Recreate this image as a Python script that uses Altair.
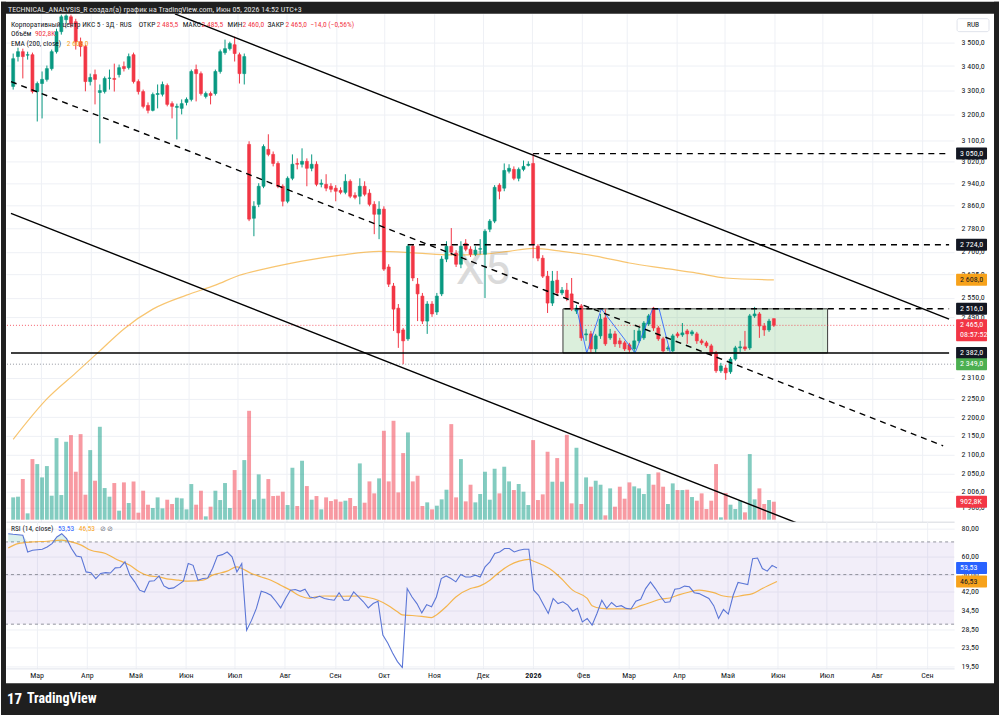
import altair as alt
import pandas as pd

FONT = "Roboto Condensed, Roboto, sans-serif"
INK = "#131722"
GREEN = "#089981"
RED = "#f23645"
ORANGE = "#f7a21b"
GRID = "#eef0f5"

# ---------------- data ----------------
bar_start = "2025-02-11 12:00"   # first 3-day bar
bar_days = 3

opens = [3315, 3440, 3461, 3446, 3448, 3294, 3327, 3344, 3389, 3461,
         3548, 3601, 3614, 3592, 3504, 3483, 3335, 3364, 3290, 3294,
         3348, 3348, 3364, 3398, 3393, 3448, 3335, 3294, 3238, 3218,
         3282, 3283, 3319, 3245, 3230, 3226, 3250, 3262, 3385, 3368,
         3274, 3286, 3286, 3377, 3457, 3474, 3491, 3448, 3368, 3085,
         2815, 2864, 2929, 3066, 3047, 3013, 2929, 2875, 2958, 3013,
         3010, 3021, 2995, 3010, 2936, 2936, 2929, 2922, 2914, 2907,
         2947, 2896, 2893, 2929, 2904, 2864, 2829, 2847, 2650, 2588,
         2518, 2451, 2424, 2719, 2594, 2556, 2478, 2531, 2506, 2563,
         2676, 2719, 2696, 2659, 2729, 2709, 2692, 2709, 2692, 2777,
         2805, 2933, 2922, 2984, 2991, 2958, 2991, 3006, 3013, 2719,
         2679, 2620, 2534, 2607, 2566, 2575, 2563, 2509, 2525, 2436,
         2439, 2394, 2433, 2488, 2427, 2439, 2418, 2412, 2406, 2394,
         2418, 2427, 2469, 2518, 2457, 2424, 2394, 2388, 2439, 2436,
         2448, 2439, 2439, 2418, 2412, 2403, 2382, 2330, 2338, 2327,
         2364, 2397, 2400, 2397, 2494, 2500, 2463, 2451, 2485.5]
highs = [3453, 3478, 3474, 3461, 3457, 3335, 3377, 3402, 3470, 3561,
         3623, 3625, 3623, 3605, 3522, 3491, 3368, 3385, 3323, 3356,
         3385, 3410, 3406, 3419, 3453, 3457, 3344, 3302, 3250, 3290,
         3323, 3335, 3327, 3254, 3245, 3262, 3270, 3385, 3406, 3377,
         3294, 3294, 3385, 3470, 3513, 3504, 3526, 3457, 3453, 3097,
         2875, 2940, 3085, 3124, 3058, 3021, 2936, 2965, 3047, 3032,
         3070, 3032, 3047, 3021, 2954, 2973, 2940, 2933, 2925, 2973,
         2954, 2907, 2958, 2947, 2918, 2875, 2875, 2857, 2659, 2598,
         2531, 2457, 2726, 2726, 2614, 2566, 2540, 2540, 2566, 2686,
         2736, 2781, 2706, 2736, 2743, 2719, 2719, 2743, 2777, 2812,
         2933, 2940, 3013, 3010, 3002, 2998, 3024, 3021, 3050, 2726,
         2689, 2637, 2637, 2637, 2585, 2598, 2614, 2528, 2531, 2454,
         2448, 2439, 2500, 2515, 2454, 2448, 2427, 2418, 2412, 2451,
         2457, 2478, 2500, 2522, 2463, 2430, 2403, 2439, 2445, 2472,
         2454, 2451, 2445, 2424, 2418, 2409, 2388, 2353, 2347, 2370,
         2403, 2418, 2448, 2500, 2522, 2506, 2472, 2485, 2485.5]
lows = [3302, 3419, 3348, 3427, 3286, 3174, 3186, 3335, 3381, 3453,
        3535, 3583, 3566, 3470, 3440, 3295, 3319, 3242, 3089, 3286,
        3302, 3294, 3352, 3377, 3385, 3327, 3282, 3226, 3206, 3214,
        3226, 3274, 3234, 3186, 3104, 3202, 3238, 3254, 3254, 3278,
        3266, 3242, 3278, 3368, 3448, 3466, 3419, 3327, 3323, 2805,
        2753, 2854, 2922, 3040, 3002, 2922, 2857, 2868, 2951, 2991,
        2998, 2929, 2984, 2929, 2925, 2911, 2907, 2875, 2900, 2900,
        2886, 2882, 2864, 2893, 2857, 2760, 2743, 2637, 2585, 2448,
        2397, 2349, 2418, 2604, 2478, 2469, 2439, 2491, 2497, 2556,
        2666, 2689, 2650, 2646, 2702, 2683, 2686, 2692, 2550, 2767,
        2798, 2882, 2911, 2976, 2951, 2947, 2984, 3002, 2679, 2669,
        2614, 2503, 2525, 2556, 2559, 2540, 2509, 2500, 2418, 2418,
        2382, 2382, 2424, 2403, 2421, 2400, 2397, 2388, 2382, 2385,
        2412, 2421, 2463, 2448, 2418, 2382, 2388, 2385, 2427, 2430,
        2409, 2433, 2409, 2406, 2397, 2373, 2324, 2324, 2304, 2321,
        2359, 2385, 2388, 2391, 2488, 2427, 2433, 2445, 2460]
closes = [3431, 3461, 3440, 3448, 3294, 3327, 3344, 3389, 3461, 3548,
          3614, 3618, 3583, 3504, 3483, 3335, 3352, 3344, 3298, 3348,
          3350, 3344, 3393, 3389, 3440, 3335, 3294, 3234, 3218, 3282,
          3286, 3323, 3242, 3234, 3234, 3245, 3262, 3377, 3368, 3286,
          3286, 3278, 3377, 3461, 3474, 3496, 3453, 3368, 3440, 2812,
          2857, 2929, 3077, 3047, 3013, 2929, 2875, 2958, 3010, 3010,
          3021, 2995, 3010, 2936, 2940, 2922, 2918, 2911, 2907, 2947,
          2893, 2889, 2929, 2900, 2864, 2829, 2847, 2643, 2594, 2515,
          2442, 2418, 2719, 2614, 2563, 2478, 2531, 2500, 2556, 2676,
          2719, 2699, 2659, 2719, 2709, 2692, 2706, 2711, 2770, 2805,
          2925, 2911, 2987, 2995, 2958, 2991, 3002, 3010, 2726, 2679,
          2620, 2534, 2604, 2566, 2575, 2550, 2515, 2518, 2427, 2439,
          2394, 2433, 2484, 2409, 2439, 2409, 2409, 2394, 2391, 2418,
          2448, 2472, 2494, 2457, 2424, 2388, 2397, 2433, 2433, 2442,
          2439, 2445, 2418, 2412, 2403, 2379, 2330, 2344, 2324, 2364,
          2397, 2400, 2394, 2494, 2500, 2463, 2451, 2478, 2465]
volumes_k = [1121, 1155, 2041, 318, 3045, 2794, 2125, 2694, 1205, 4100,
             1238, 3916, 4250, 2410, 4300, 1255, 3497, 1958, 4669, 1590,
             1155, 1841, 452, 1874, 837, 1924, 351, 1456, 753, 586,
             1121, 569, 1004, 787, 1104, 1071, 519, 1790, 753, 1456,
             167, 653, 1456, 987, 1841, 586, 2493, 1489, 2995, 5472,
             1021, 2276, 1054, 2041, 1188, 1205, 1406, 736, 2610, 686,
             2962, 1690, 1004, 1188, 519, 1121, 937, 1021, 904, 954,
             1088, 686, 2828, 853, 1924, 1322, 2075, 4468, 1924, 4970,
             1372, 3347, 4384, 1924, 2209, 686, 870, 519, 703, 1021,
             1506, 4803, 1121, 3045, 920, 1757, 870, 1289, 2410, 1004,
             2560, 1322, 2661, 1924, 1489, 1790, 1406, 736, 3999, 987,
             1272, 3414, 1908, 3096, 1908, 4267, 820, 3614, 787, 2125,
             1657, 1958, 1757, 217, 1573, 653, 1657, 1054, 1874, 1673,
             1573, 1289, 2293, 1757, 2376, 1657, 787, 1824, 1489, 1489,
             1506, 1138, 954, 1322, 535, 954, 2794, 117, 1339, 753,
             535, 954, 368, 3297, 1021, 1573, 787, 987, 902.8]

ema_bars = [0, 7, 13, 18, 23, 29, 36, 42, 47, 52, 60, 68, 76, 84, 91, 97, 103,
            108, 114, 121, 128, 135, 142, 148, 158]
ema_vals = [2140, 2250, 2324, 2388, 2454, 2515, 2559, 2591, 2623, 2643, 2669, 2689,
            2702, 2696, 2690, 2692, 2702, 2712, 2702, 2686, 2663, 2646, 2630, 2614, 2608]

rsi_bars = [0, 1, 3, 4, 5, 7, 8, 9, 10, 11, 12, 13, 14, 15, 16, 17, 18, 19, 20, 21,
            22, 23, 24, 25, 26, 27, 28, 29, 30, 31, 32, 33, 34, 35, 36, 37, 38, 39, 40, 41,
            42, 43, 44, 45, 46, 47, 48, 49, 50, 51, 52, 53, 54, 55, 56, 57, 58, 59, 60, 61,
            62, 63, 64, 65, 66, 67, 68, 69, 70, 71, 72, 73, 74, 75, 76, 77, 78, 79, 80, 81,
            82, 83, 84, 85, 86, 87, 88, 89, 90, 91, 92, 93, 94, 95, 96, 97, 98, 99, 100, 101,
            102, 103, 104, 105, 106, 107, 108, 109, 110, 111, 112, 113, 114, 115, 116, 117,
            118, 119, 120, 121, 122, 123, 124, 125, 126, 127, 128, 129, 130, 131, 132, 133,
            134, 135, 136, 137, 138, 139, 140, 141, 142, 144, 145, 146, 147, 148, 149, 150,
            151, 152, 153, 154, 155, 156, 157, 158]
rsi_vals = [76.2, 75.7, 75.0, 63.1, 64.2, 64.9, 66.5, 68.8, 73.7, 76.2, 72.4, 65.4, 60.6, 60.0, 51.4, 51.0, 48.0, 50.6, 51.0, 50.8,
            53.6, 53.8, 57.0, 49.7, 46.4, 42.6, 41.8, 46.7, 46.9, 49.3, 44.5, 43.3, 43.6, 45.1, 46.7, 56.0, 55.0, 47.2, 48.0, 48.3,
            53.2, 60.6, 61.4, 63.1, 60.0, 51.4, 56.0, 28.2, 31.2, 35.3, 42.1, 41.5, 40.4, 38.0, 35.5, 39.1, 42.6, 42.9, 42.1, 43.0,
            39.7, 39.3, 40.0, 39.1, 38.7, 38.4, 41.5, 38.4, 38.4, 41.8, 39.7, 37.8, 35.5, 37.1, 38.0, 26.8, 24.7, 22.3, 20.4, 19.2,
            43.3, 39.7, 37.1, 33.7, 36.7, 35.9, 39.7, 48.0, 49.3, 48.0, 46.4, 50.1, 48.8, 48.8, 49.7, 48.8, 54.1, 57.0, 62.1, 63.1,
            65.4, 65.4, 63.1, 64.2, 64.9, 64.9, 42.6, 40.4, 36.7, 33.5, 39.1, 37.1, 37.8, 36.5, 34.3, 35.3,
            30.7, 31.8, 29.7, 33.5, 38.4, 35.3, 37.5, 35.9, 36.3, 35.3, 35.1, 38.0, 38.8, 43.3, 46.4, 43.3,
            40.1, 37.5, 37.8, 43.0, 43.3, 44.4, 44.1, 41.5, 41.1, 39.1, 36.3, 31.8, 34.9, 33.3, 40.4, 46.1,
            45.6, 45.1, 58.9, 59.3, 53.2, 51.8, 55.0, 53.53]
ma_bars = [0, 2, 5, 8, 11, 13, 15, 17, 20, 22, 25, 27, 29, 31, 33, 35, 37, 40, 42, 45,
           47, 48, 50, 52, 54, 56, 58, 60, 62, 63, 65, 69, 72, 74, 76, 78, 80, 81, 83, 85,
           87, 88, 90, 92, 95, 97, 99, 101, 103, 105, 107, 108, 110, 112, 114, 116, 119, 120, 122, 124,
           126, 128, 130, 132, 134, 136, 138, 140, 142, 145, 147, 149, 151, 153, 155, 158]
ma_vals = [65.8, 68.8, 70.0, 70.5, 71.3, 70.0, 67.7, 64.2, 62.1, 58.9, 55.0, 51.4, 49.3, 48.8, 47.7, 47.2, 46.7, 47.2, 49.7, 51.8,
           54.1, 53.2, 50.6, 48.8, 47.2, 44.8, 42.6, 40.1, 39.1, 39.7, 40.1, 40.0, 40.1, 39.5, 38.4, 36.5, 34.1, 33.0, 32.8, 32.5,
           32.1, 33.0, 35.9, 39.7, 43.3, 44.5, 47.2, 51.4, 55.0, 57.4, 58.5, 57.4, 55.0, 51.8, 47.2, 42.6, 39.1, 36.3, 35.3, 35.1,
           35.1, 35.1, 36.3, 37.5, 38.8, 39.3, 40.7, 41.8, 42.6, 41.5, 40.1, 39.7, 40.4, 41.1, 43.3, 46.53]

# drawings (date, price)
trend_solid = {
    "A": [("2025-05-23 07:00", 3627), ("2026-09-17 17:00", 2484)],
    "C": [("2025-02-10 03:00", 2832), ("2026-09-17 17:00", 1791)],
    "S2382": [("2025-02-10 03:00", 2382), ("2026-09-17 17:00", 2382)],
}
trend_dashed = {
    "B": [("2025-02-10 03:00", 3335), ("2026-09-14 00:00", 2123)],
    "H3050": [("2026-01-01 12:00", 3050), ("2026-09-17 17:00", 3050)],
    "H2724": [("2025-10-15 12:00", 2724), ("2026-09-17 17:00", 2724)],
    "H2516": [("2026-01-21 00:00", 2516), ("2026-09-17 17:00", 2516)],
}
range_box = {"t1": "2026-01-20 02:00", "t2": "2026-07-04 00:00", "p1": 2382, "p2": 2516}
zigzag = [("2026-01-28 17:00", 2516), ("2026-02-03 22:00", 2382), ("2026-02-13 00:00", 2516),
          ("2026-03-06 00:00", 2382), ("2026-03-17 00:00", 2516), ("2026-03-21 00:00", 2516),
          ("2026-03-28 00:00", 2382)]
last_price = 2465
low_price = 2349

badge_prices = [3050, 2724, 2608, 2516, 2382, 2349]
badge_labels = ["3 050,0", "2 724,0", "2 608,0", "2 516,0", "2 382,0", "2 349,0"]
badge_bg = [INK, INK, ORANGE, INK, INK, "#4caf50"]
badge_fg = ["white", "white", INK, "white", "white", "white"]

price_ticks = [3500, 3400, 3300, 3200, 3100, 3020, 2940, 2860, 2780, 2700, 2625, 2550,
               2490, 2310, 2250, 2200, 2150, 2100, 2050, 2006, 1966]
rsi_ticks = [80, 60, 50, 42, 34.5, 28.5, 23.5, 19.5]
month_starts = ["2025-03-01", "2025-04-01", "2025-05-01", "2025-06-01", "2025-07-01",
                "2025-08-01", "2025-09-01", "2025-10-01", "2025-11-01", "2025-12-01",
                "2026-01-01", "2026-02-01", "2026-03-01", "2026-04-01", "2026-05-01",
                "2026-06-01", "2026-07-01", "2026-08-01", "2026-09-01"]
month_names = ["Янв", "Фев", "Мар", "Апр", "Май", "Июн", "Июл", "Авг", "Сен", "Окт", "Ноя", "Дек"]


# ---------------- helpers ----------------
def ms(s):
    return int(pd.Timestamp(s, tz="UTC").value // 1_000_000)


DAY = 86_400_000
T0 = ms(bar_start)


def bar_t(i):
    return T0 + i * bar_days * DAY


W, H, RH = 950, 509, 147
XDOM = [ms("2025-02-10 03:00"), ms("2026-09-17 17:00")]
xs = alt.Scale(type="utc", domain=XDOM)
ys = alt.Scale(type="log", domain=[1932.3, 3627.9], nice=False)
vs = alt.Scale(domain=[-100.4, 25431], nice=False)
rs = alt.Scale(type="log", domain=[19.03, 86.23], nice=False)

month_ms = [ms(d) for d in month_starts]
arr = "[" + ",".join("'" + m + "'" for m in month_names) + "]"
month_expr = "utcmonth(datum.value) == 0 ? utcFormat(datum.value, '%Y') : " + arr + "[utcmonth(datum.value)]"

AXF = 8
XAX_P = alt.Axis(values=month_ms, labels=False, ticks=False, domain=True, domainColor="#d6d8de",
                 grid=True, gridColor=GRID, title=None)
XAX_R = alt.Axis(values=month_ms, labelExpr=month_expr,
                 labelFontWeight={"condition": {"test": "utcmonth(datum.value) == 0", "value": "bold"}, "value": "normal"},
                 ticks=False, domain=True, domainColor="#e0e3eb", grid=True, gridColor=GRID,
                 labelFont=FONT, labelFontSize=AXF, labelColor=INK, labelPadding=3,
                 labelFlush=False, labelOverlap=False, title=None)
PAX = alt.Axis(orient="right", values=price_ticks,
               labelExpr="replace(replace(format(datum.value, ',.1f'), ',', ' '), '.', ',')",
               ticks=False, tickSize=0, domain=False, grid=True, gridColor=GRID, labelPadding=7,
               labelAlign="left", labelBaseline="middle", labelFont=FONT, labelFontSize=AXF,
               labelColor=INK, labelOverlap=False, labelFlush=False, title=None)
RAX = alt.Axis(orient="right", values=rsi_ticks,
               labelExpr="replace(format(datum.value, '.2f'), '.', ',')",
               ticks=False, tickSize=0, domain=False, grid=True, gridColor=GRID, labelPadding=7,
               labelAlign="left", labelBaseline="middle", labelFont=FONT, labelFontSize=AXF,
               labelColor=INK, labelOverlap=False, labelFlush=False, title=None)

one = pd.DataFrame({"k": [0]})


def XP(f="t"):
    return alt.X(f + ":T", scale=xs, axis=XAX_P)


def XR(f="t"):
    return alt.X(f + ":T", scale=xs, axis=XAX_R)


def YP(f):
    return alt.Y(f + ":Q", scale=ys, axis=PAX)


def YR(f):
    return alt.Y(f + ":Q", scale=rs, axis=RAX)


def txt(s, x, y, color=INK, size=7.5, weight="normal", align="left", font=FONT, opacity=1.0):
    return alt.Chart(one).mark_text(text=s, color=color, fontSize=size, fontWeight=weight, align=align,
                                    baseline="middle", font=font, opacity=opacity).encode(
        x=alt.value(x), y=alt.value(y))


def prect(x1, x2, y1, y2, color, stroke="transparent", radius=0):
    return alt.Chart(one).mark_rect(color=color, stroke=stroke, strokeWidth=1, cornerRadius=radius).encode(
        x=alt.value(x1), x2=alt.value(x2), y=alt.value(y1), y2=alt.value(y2))


# ---------------- tables ----------------
candles = pd.DataFrame({"t": [bar_t(i) for i in range(len(opens))], "o": opens, "h": highs,
                        "l": lows, "c": closes, "v": volumes_k})
candles["col"] = [GREEN if c >= o else RED for o, c in zip(opens, closes)]

ema_df = pd.DataFrame({"t": [bar_t(b) for b in ema_bars], "p": ema_vals})
rsi_df = pd.DataFrame({"t": [bar_t(b) for b in rsi_bars], "r": rsi_vals})
ma_df = pd.DataFrame({"t": [bar_t(b) for b in ma_bars], "r": ma_vals})


def seg_df(d):
    rows = []
    for k, pts in d.items():
        for (s, p) in pts:
            rows.append({"id": k, "t": ms(s), "p": p})
    return pd.DataFrame(rows)


solid_df = seg_df(trend_solid)
dashed_df = seg_df(trend_dashed)
zig_df = pd.DataFrame({"t": [ms(s) for s, _ in zigzag], "p": [p for _, p in zigzag]})
box_df = pd.DataFrame({"t1": [ms(range_box["t1"])], "t2": [ms(range_box["t2"])],
                       "p1": [range_box["p1"]], "p2": [range_box["p2"]]})
badge_df = pd.DataFrame({"p": badge_prices, "lab": badge_labels, "bg": badge_bg, "fg": badge_fg})

BF = 8  # badge font
# ---------------- price pane ----------------
box_l = alt.Chart(box_df).mark_rect(fill="#4caf50", fillOpacity=0.2, stroke="#3c3c3c", strokeWidth=1).encode(
    x=XP("t1"), x2="t2:T", y=YP("p1"), y2="p2:Q")
ema_l = alt.Chart(ema_df).mark_line(color="#f5a623", strokeWidth=1.2, opacity=0.65, interpolate="monotone",
                                    clip=True).encode(x=XP(), y=YP("p"))
cur_rule = alt.Chart(pd.DataFrame({"p": [last_price]})).mark_rule(color=RED, strokeDash=[1, 2], strokeWidth=1,
                                                                   opacity=0.8).encode(y=YP("p"))
low_rule = alt.Chart(pd.DataFrame({"p": [low_price]})).mark_rule(color="#9598a1", strokeDash=[1, 2],
                                                                  strokeWidth=1).encode(y=YP("p"))
wick_l = alt.Chart(candles).mark_rule(strokeWidth=1).encode(
    x=XP(), y=YP("l"), y2="h:Q", color=alt.Color("col:N", scale=None))
body_l = alt.Chart(candles).mark_bar(size=3.0, strokeWidth=0.6).encode(
    x=XP(), y=YP("o"), y2="c:Q", color=alt.Color("col:N", scale=None), stroke=alt.Stroke("col:N", scale=None))
zig_l = alt.Chart(zig_df).mark_line(color="#2962ff", strokeWidth=1, opacity=0.85).encode(x=XP(), y=YP("p"))
solid_l = alt.Chart(solid_df).mark_line(color="black", strokeWidth=1.4, clip=True).encode(
    x=XP(), y=YP("p"), detail="id:N")
dashed_l = alt.Chart(dashed_df).mark_line(color="black", strokeWidth=1.4, strokeDash=[6, 5], clip=True).encode(
    x=XP(), y=YP("p"), detail="id:N")
badge_rect = alt.Chart(badge_df).mark_rect(yOffset=-6, y2Offset=6, cornerRadius=1).encode(
    x=alt.value(952), x2=alt.value(983), y=YP("p"), y2="p:Q", color=alt.Color("bg:N", scale=None))
badge_text = alt.Chart(badge_df).mark_text(align="left", baseline="middle", font=FONT, fontSize=BF).encode(
    x=alt.value(956), y=YP("p"), text="lab:N", color=alt.Color("fg:N", scale=None))
last_df = pd.DataFrame({"p": [last_price], "a": ["2 465,0"], "b": ["08:57:52"]})
red_rect = alt.Chart(last_df).mark_rect(yOffset=-6, y2Offset=16, cornerRadius=1, color=RED).encode(
    x=alt.value(952), x2=alt.value(983), y=YP("p"), y2="p:Q")
red_t1 = alt.Chart(last_df).mark_text(align="left", baseline="middle", font=FONT, fontSize=BF, color="white").encode(
    x=alt.value(956), y=YP("p"), text="a:N")
red_t2 = alt.Chart(last_df).mark_text(align="left", baseline="middle", font=FONT, fontSize=BF, color="white",
                                      dy=10).encode(x=alt.value(956), y=YP("p"), text="b:N")

price_inner = alt.layer(box_l, ema_l, cur_rule, low_rule, wick_l, body_l, zig_l, solid_l, dashed_l,
                        badge_rect, badge_text, red_rect, red_t1, red_t2)

vol_bars = alt.Chart(candles).mark_bar(size=3.9, opacity=0.5).encode(
    x=XP(), y=alt.Y("v:Q", scale=vs, axis=None), color=alt.Color("col:N", scale=None))
vol_badge_df = pd.DataFrame({"v": [volumes_k[-1]], "lab": ["902,8K"]})
vol_badge_r = alt.Chart(vol_badge_df).mark_rect(yOffset=-6, y2Offset=6, cornerRadius=1, color=RED).encode(
    x=alt.value(952), x2=alt.value(983), y=alt.Y("v:Q", scale=vs, axis=None), y2="v:Q")
vol_badge_t = alt.Chart(vol_badge_df).mark_text(align="left", baseline="middle", font=FONT, fontSize=BF,
                                                color="white").encode(
    x=alt.value(956), y=alt.Y("v:Q", scale=vs, axis=None), text="lab:N")
vol_layer = alt.layer(vol_bars, vol_badge_r, vol_badge_t)

FRAME = "#1f1f1f"
frame = [prect(-5, 995, -12, 0, FRAME), prect(-5, 995, 671, 703, FRAME),
         prect(-5, 0, -12, 703, FRAME), prect(990, 995, -12, 703, FRAME)]

legend = [
    txt("Корпоративный центр ИКС 5 · 3Д · RUS", 5, 11),
    txt("ОТКР", 133, 11), txt("2 485,5", 151, 11, RED),
    txt("МАКС", 177, 11), txt("2 485,5", 196, 11, RED),
    txt("МИН", 222, 11), txt("2 460,0", 237, 11, RED),
    txt("ЗАКР", 262, 11), txt("2 465,0", 280, 11, RED),
    txt("−14,0 (−0,56%)", 305, 11, RED),
    txt("Объём", 5, 20), txt("902,8K", 29, 20, RED),
    txt("EMA (200, close)", 5, 30), txt("2 608,0", 61, 30, ORANGE),
]
header = txt("TECHNICAL_ANALYSIS_R создал(а) график на TradingView.com, Июн 05, 2026 14:52 UTC+3",
             2, -4, color="#e6e6e6", size=8)
watermark = txt("X5", 478, 257, color="#dadada", size=46, align="center", font="Roboto, sans-serif")
rub_box = prect(953, 985, 5, 18, "white", stroke="#e0e3eb", radius=2)
rub_txt = txt("RUB", 969, 11.5, size=7.5, align="center")
logo1 = txt("17", 1, 687, color="white", size=15, weight="bold")
logo2 = txt("TradingView", 21, 687, color="white", size=14, weight="bold")

price = alt.layer(*frame, header, logo1, logo2, watermark, vol_layer, price_inner, *legend,
                  rub_box, rub_txt).resolve_scale(y="independent").properties(width=W, height=H)

# ---------------- RSI pane ----------------
band = alt.Chart(pd.DataFrame({"lo": [30], "hi": [70]})).mark_rect(color="#7e57c2", opacity=0.1).encode(
    x=alt.value(0), x2=alt.value(W), y=YR("lo"), y2="hi:Q")
levels = alt.Chart(pd.DataFrame({"lv": [70, 50, 30]})).mark_rule(color="#787b86", strokeDash=[3, 3],
                                                                  strokeWidth=1, opacity=0.8).encode(y=YR("lv"))
ob = alt.Chart(rsi_df).transform_calculate(top="max(datum.r, 70)", base="70").mark_area(
    color=GREEN, opacity=0.15, clip=True).encode(x=XR(), y=YR("top"), y2="base:Q")
ma_l = alt.Chart(ma_df).mark_line(color="#f5a623", strokeWidth=1.2, opacity=0.8, interpolate="monotone",
                                  clip=True).encode(x=XR(), y=YR("r"))
rsi_l = alt.Chart(rsi_df).mark_line(color="#5b76d6", strokeWidth=1.1, clip=True).encode(x=XR(), y=YR("r"))
rb_df = pd.DataFrame({"r": [53.53, 46.53], "lab": ["53,53", "46,53"], "bg": ["#2962ff", ORANGE],
                      "fg": ["white", INK]})
rb_rect = alt.Chart(rb_df).mark_rect(yOffset=-6, y2Offset=6, cornerRadius=1).encode(
    x=alt.value(952), x2=alt.value(983), y=YR("r"), y2="r:Q", color=alt.Color("bg:N", scale=None))
rb_text = alt.Chart(rb_df).mark_text(align="left", baseline="middle", font=FONT, fontSize=BF).encode(
    x=alt.value(956), y=YR("r"), text="lab:N", color=alt.Color("fg:N", scale=None))
rsi_legend = [txt("RSI (14, close)", 5, 7), txt("53,53", 52, 7, "#2962ff"), txt("46,53", 73, 7, ORANGE),
              txt("⊘", 94, 7, "#787b86"), txt("⊘", 101, 7, "#787b86")]

rsi = alt.layer(band, levels, ob, ma_l, rsi_l, rb_rect, rb_text, *rsi_legend).properties(width=W, height=RH)

chart = alt.vconcat(price, rsi, spacing=0, bounds="flush").properties(
    background="white", padding=0).configure_view(stroke="transparent")

chart.save("out.html", embed_options={"renderer": "svg", "actions": False})
